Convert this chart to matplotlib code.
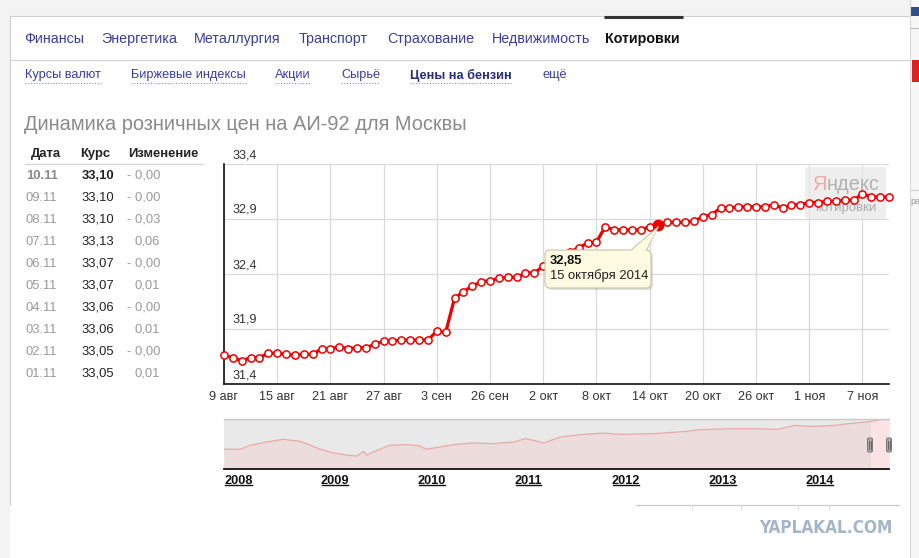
import matplotlib
matplotlib.use('Agg')
import matplotlib.pyplot as plt
from matplotlib.patches import FancyBboxPatch, Rectangle, Polygon
import matplotlib.transforms as mtransforms
from matplotlib import font_manager

plt.rcParams['font.family'] = ['Liberation Sans', 'DejaVu Sans']

W, H = 920, 558

# ---------------- data ----------------
x_tick_labels = ['9 авг', '15 авг', '21 авг', '27 авг', '3 сен', '26 сен', '2 окт',
                 '8 окт', '14 окт', '20 окт', '26 окт', '1 ноя', '7 ноя']
prices = [31.66, 31.64, 31.61, 31.64, 31.64, 31.68, 31.68, 31.67, 31.66, 31.67,
          31.67, 31.72, 31.72, 31.74, 31.72, 31.73, 31.73, 31.76, 31.79, 31.79,
          31.80, 31.80, 31.80, 31.80, 31.88, 31.87, 32.18, 32.24, 32.29, 32.33,
          32.34, 32.36, 32.37, 32.37, 32.41, 32.41, 32.47, 32.51, 32.55, 32.60,
          32.64, 32.68, 32.69, 32.83, 32.80, 32.80, 32.80, 32.80, 32.83, 32.85,
          32.87, 32.87, 32.87, 32.88, 32.92, 32.94, 33.00, 33.00, 33.01, 33.01,
          33.01, 33.01, 33.03, 33.00, 33.03, 33.03, 33.05, 33.05, 33.06, 33.06,
          33.07, 33.07, 33.13, 33.10, 33.10, 33.10]
y_ticks = [31.4, 31.9, 32.4, 32.9, 33.4]
y_tick_labels = ['31,4', '31,9', '32,4', '32,9', '33,4']

highlight_index = 49
highlight_value = '32,85'
highlight_date = '15 октября 2014'

table_header = ['Дата', 'Курс', 'Изменение']
table_dates = ['10.11', '09.11', '08.11', '07.11', '06.11', '05.11', '04.11', '03.11', '02.11', '01.11']
table_rates = ['33,10', '33,10', '33,10', '33,13', '33,07', '33,07', '33,06', '33,06', '33,05', '33,05']
table_changes = ['- 0,00', '- 0,00', '- 0,03', '0,06', '- 0,00', '0,01', '- 0,00', '0,01', '- 0,00', '0,01']

nav_years = [2008.00, 2008.17, 2008.27, 2008.44, 2008.61, 2008.78, 2008.85, 2008.99,
             2009.13, 2009.27, 2009.37, 2009.44, 2009.47, 2009.54, 2009.71, 2009.89,
             2010.02, 2010.09, 2010.23, 2010.37, 2010.57, 2010.78, 2010.99, 2011.11,
             2011.19, 2011.30, 2011.47, 2011.67, 2011.91, 2012.09, 2012.43, 2012.77,
             2012.91, 2013.19, 2013.53, 2013.70, 2013.88, 2014.08, 2014.29, 2014.43,
             2014.67, 2014.77, 2014.86]
nav_values = [22.24, 22.24, 23.69, 24.88, 25.86, 25.14, 24.30, 22.24,
              20.90, 20.07, 19.71, 21.52, 20.07, 21.26, 23.69, 23.94,
              23.43, 22.24, 23.07, 23.94, 24.52, 24.30, 24.88, 26.11,
              25.50, 24.52, 26.69, 27.56, 28.14, 27.67, 27.92, 28.76,
              29.37, 29.73, 29.73, 29.48, 30.93, 30.57, 30.93, 31.54,
              32.38, 33.10, 33.10]
nav_year_ticks = [2008, 2009, 2010, 2011, 2012, 2013, 2014]
nav_window = [2014.67, 2014.86]

tabs = ['Финансы', 'Энергетика', 'Металлургия', 'Транспорт', 'Страхование', 'Недвижимость', 'Котировки']
subtabs = ['Курсы валют', 'Биржевые индексы', 'Акции', 'Сырьё', 'Цены на бензин', 'ещё']
title = 'Динамика розничных цен на АИ-92 для Москвы'

# ---------------- layout (pixels) ----------------
tab_x = [24, 101, 194, 299, 387, 492, 605]
subtab_x = [25, 131, 275, 341, 410, 543]
LINK = '#3a3d9e'

names = {f.name for f in font_manager.fontManager.ttflist}
NARROW = ['Liberation Sans Narrow', 'Liberation Sans'] if 'Liberation Sans Narrow' in names \
    else ['Liberation Sans']
WM_SIZE = 17 if 'Liberation Sans Narrow' in names else 14.3

fig = plt.figure(figsize=(W / 100, H / 100), dpi=100)
fig.patch.set_facecolor('white')


def fig_rect(x0, y0, x1, y1):
    return [x0 / W, 1 - y1 / H, (x1 - x0) / W, (y1 - y0) / H]


bg = fig.add_axes([0, 0, 1, 1], zorder=0)
bg.set_xlim(0, W)
bg.set_ylim(H, 0)
bg.axis('off')

bg.add_patch(Rectangle((0, 0), W, 16, color='#f3f3f3', lw=0))
bg.add_patch(Rectangle((0, 0), 10, H, color='#f3f3f3', lw=0))
bg.plot([10, 910], [16, 16], color='#d0d0d0', lw=0.8)
bg.plot([10, 10], [16, 505], color='#d0d0d0', lw=0.8)
bg.plot([10, 910], [60, 60], color='#cfcfcf', lw=0.8)
bg.plot([910, 910], [0, H], color='#d8d8d8', lw=0.8)
bg.add_patch(Rectangle((911, 0), 9, H, color='#f7f7f7', lw=0))
bg.add_patch(Rectangle((911, 7), 9, 9, color='#2d4f8a', lw=0))
bg.plot([911, 920], [28, 28], color='#bbbbbb', lw=0.8)
bg.add_patch(Rectangle((912, 60), 8, 22, color='#e02020', lw=0))
bg.plot([911, 920], [190, 190], color='#cccccc', lw=0.8)
bg.text(910, 201, 'ра', fontsize=6.5, color='#999999', va='center', ha='left')
bg.plot([604, 683], [17, 17], color='#333333', lw=2.2, solid_capstyle='butt')

for s, x in zip(tabs, tab_x):
    last = (s == tabs[-1])
    bg.text(x, 39, s, fontsize=10.3, va='center', ha='left',
            color='#111111' if last else LINK, fontweight='bold' if last else 'normal')

fig.canvas.draw()
rend = fig.canvas.get_renderer()
for s, x in zip(subtabs, subtab_x):
    bold = (s == 'Цены на бензин')
    t = bg.text(x, 75, s, fontsize=9.2, va='center', ha='left',
                color='#2a2d7e' if bold else LINK, fontweight='bold' if bold else 'normal')
    if s != subtabs[-1]:
        bb = t.get_window_extent(renderer=rend)
        bg.plot([bb.x0, bb.x1], [83, 83], color='#8a8cc0', lw=0.8, ls=(0, (1, 1.5)))

bg.text(24, 124, title, fontsize=14.4, color='#8a8a8a', va='center', ha='left')

# table
hdr_x = [31, 80, 128]
for s, x in zip(table_header, hdr_x):
    bg.text(x, 154, s, fontsize=9.4, fontweight='bold', color='#222222', va='center', ha='left')
bg.plot([25, 203], [164, 164], color='#d6d6d6', lw=1)
for i, (d, r_, c) in enumerate(zip(table_dates, table_rates, table_changes)):
    y = 176 + i * 21.97
    first = (i == 0)
    bg.text(26, y, d, fontsize=9.4, color='#888888' if first else '#9a9a9a',
            fontweight='bold' if first else 'normal', va='center', ha='left')
    bg.text(114, y, r_, fontsize=9.4, color='#222222',
            fontweight='bold' if first else 'normal', va='center', ha='right')
    bg.text(160, y, c, fontsize=9.4, color='#9a9a9a', va='center', ha='right')

# ---------------- main chart ----------------
ax = fig.add_axes(fig_rect(224, 164, 889, 384), zorder=2)
ax.patch.set_alpha(0)
xs = list(range(len(prices)))
ax.set_xlim(0, len(prices) - 1)
ax.set_ylim(y_ticks[0], y_ticks[-1])
ax.set_yticks(y_ticks)
ax.set_yticklabels([])
ax.set_xticks(xs[::6])
ax.set_xticklabels(x_tick_labels, fontsize=9.1, color='#333333')
ax.tick_params(axis='both', length=0)
ax.tick_params(axis='x', pad=5)
ax.grid(True, color='#d9d9d9', lw=0.9)
ax.set_axisbelow(True)
for sp in ['top', 'right']:
    ax.spines[sp].set_visible(False)
for sp in ['left', 'bottom']:
    ax.spines[sp].set_color('#111111')
    ax.spines[sp].set_linewidth(1.2)

ytrans = mtransforms.offset_copy(ax.get_yaxis_transform(), fig=fig, x=8, y=3, units='dots')
for v, lab in zip(y_ticks, y_tick_labels):
    ax.text(0, v, lab, transform=ytrans, fontsize=9.1, color='#333333',
            va='bottom', ha='left', clip_on=False)

# watermark box
wm_ax = fig.add_axes([0, 0, 1, 1], zorder=3)
wm_ax.set_xlim(0, W)
wm_ax.set_ylim(H, 0)
wm_ax.axis('off')
wm_ax.patch.set_alpha(0)
wm_ax.add_patch(FancyBboxPatch((805, 167), 81, 52, boxstyle='round,pad=0,rounding_size=3',
                               facecolor='#e9e9e9', edgecolor='none', alpha=0.75))
ya = wm_ax.text(812, 185, 'Я', fontsize=WM_SIZE, color='#f2a5a5', va='center', ha='left', family=NARROW)
fig.canvas.draw()
rend = fig.canvas.get_renderer()
ya_bb = ya.get_window_extent(renderer=rend)
wm_ax.text(ya_bb.x1 + 0.5, 185, 'ндекс', fontsize=WM_SIZE, color='#b2b2b2', va='center', ha='left',
           family=NARROW)
wm_ax.text(815, 208, 'котировки', fontsize=9.5, color='#adadad', va='center', ha='left')

# the line on top of watermark
ln_ax = fig.add_axes(fig_rect(224, 164, 889, 384), zorder=4, sharex=ax, sharey=ax)
ln_ax.axis('off')
ln_ax.patch.set_alpha(0)
ln_ax.plot(xs, prices, color='#ee0000', lw=2.3, zorder=3, clip_on=False,
           marker='o', ms=5.2, mfc='white', mec='#ee0000', mew=1.1)
ln_ax.plot([highlight_index], [prices[highlight_index]], 'o', color='#ee0000', ms=7.5,
           zorder=4, clip_on=False)

# ---------------- tooltip ----------------
fg = fig.add_axes([0, 0, 1, 1], zorder=6)
fg.set_xlim(0, W)
fg.set_ylim(H, 0)
fg.axis('off')
fg.patch.set_alpha(0)

dx, dy = ln_ax.transData.transform((highlight_index, prices[highlight_index]))
tipx, tipy = dx, H - dy
bx0, by0, bx1, by1 = 545, 250, 651, 288
fg.add_patch(FancyBboxPatch((bx0 + 2, by0 + 2), bx1 - bx0, by1 - by0,
                            boxstyle='round,pad=0,rounding_size=5', facecolor='#000000',
                            alpha=0.12, edgecolor='none'))
fg.add_patch(Polygon([(630, by0 + 1), (646, by0 + 1), (tipx, tipy + 2)], closed=True,
                     facecolor='#fffbe3', edgecolor='#c9c3a6', lw=0.8))
fg.add_patch(FancyBboxPatch((bx0, by0), bx1 - bx0, by1 - by0, boxstyle='round,pad=0,rounding_size=5',
                            facecolor='#fffbe3', edgecolor='#c9c3a6', lw=0.8))
fg.add_patch(Polygon([(631, by0 + 1.2), (645, by0 + 1.2), (tipx - 1, tipy + 4)], closed=True,
                     facecolor='#fffbe3', edgecolor='none'))
fg.text(550, 261, highlight_value, fontsize=9.4, fontweight='bold', color='#111111', va='center', ha='left')
fg.text(550, 276, highlight_date, fontsize=9.4, color='#222222', va='center', ha='left')

# ---------------- navigator ----------------
nav = fig.add_axes(fig_rect(224, 419, 889, 469), zorder=2)
nav.set_facecolor('#e9e9e9')
nav.set_xlim(nav_years[0], nav_years[-1])
nav.set_ylim(15, 33.3)
nav.fill_between(nav_years, nav_values, 15, color='#eddcdc', lw=0)
nav.plot(nav_years, nav_values, color='#e9a9a9', lw=0.9)
nav.axvspan(nav_window[0], nav_window[1], color='#ffe4e4', alpha=0.85, lw=0)
nav.set_xticks(nav_year_ticks)
nav.set_xticklabels([str(y) for y in nav_year_ticks], fontsize=9.2, fontweight='bold',
                    color='#111111', ha='left')
nav.tick_params(axis='x', length=0, pad=4)
nav.set_yticks([])
for sp in ['left', 'right']:
    nav.spines[sp].set_visible(False)
nav.spines['top'].set_color('#c8c8c8')
nav.spines['top'].set_linewidth(1.0)
nav.spines['bottom'].set_color('#111111')
nav.spines['bottom'].set_linewidth(1.3)

fig.canvas.draw()
rend = fig.canvas.get_renderer()
for t in nav.get_xticklabels():
    bb = t.get_window_extent(renderer=rend)
    fg.plot([bb.x0 + 1, bb.x1 - 1], [H - bb.y0 - 1.5, H - bb.y0 - 1.5], color='#111111', lw=1.0)

for hx in (870, 889):
    fg.add_patch(FancyBboxPatch((hx - 2.5, 438), 5, 14, boxstyle='round,pad=0,rounding_size=1.5',
                                facecolor='#a9a9a9', edgecolor='#777777', lw=0.7))
    fg.plot([hx - 0.6, hx - 0.6], [441, 449], color='#444444', lw=0.5)
    fg.plot([hx + 0.6, hx + 0.6], [441, 449], color='#444444', lw=0.5)

bg.plot([636, 899], [505, 505], color='#cccccc', lw=0.9)
for sx in (692, 741, 798, 829):
    bg.plot([sx, sx], [505, 509], color='#dddddd', lw=0.8)
bg.text(893, 528, 'YAPLAKAL.COM', fontsize=12.3, fontweight='bold', color='#a5b6c8',
        va='center', ha='right', family='DejaVu Sans', fontstretch='condensed')

fig.savefig('out.png', dpi=100, facecolor='white')
